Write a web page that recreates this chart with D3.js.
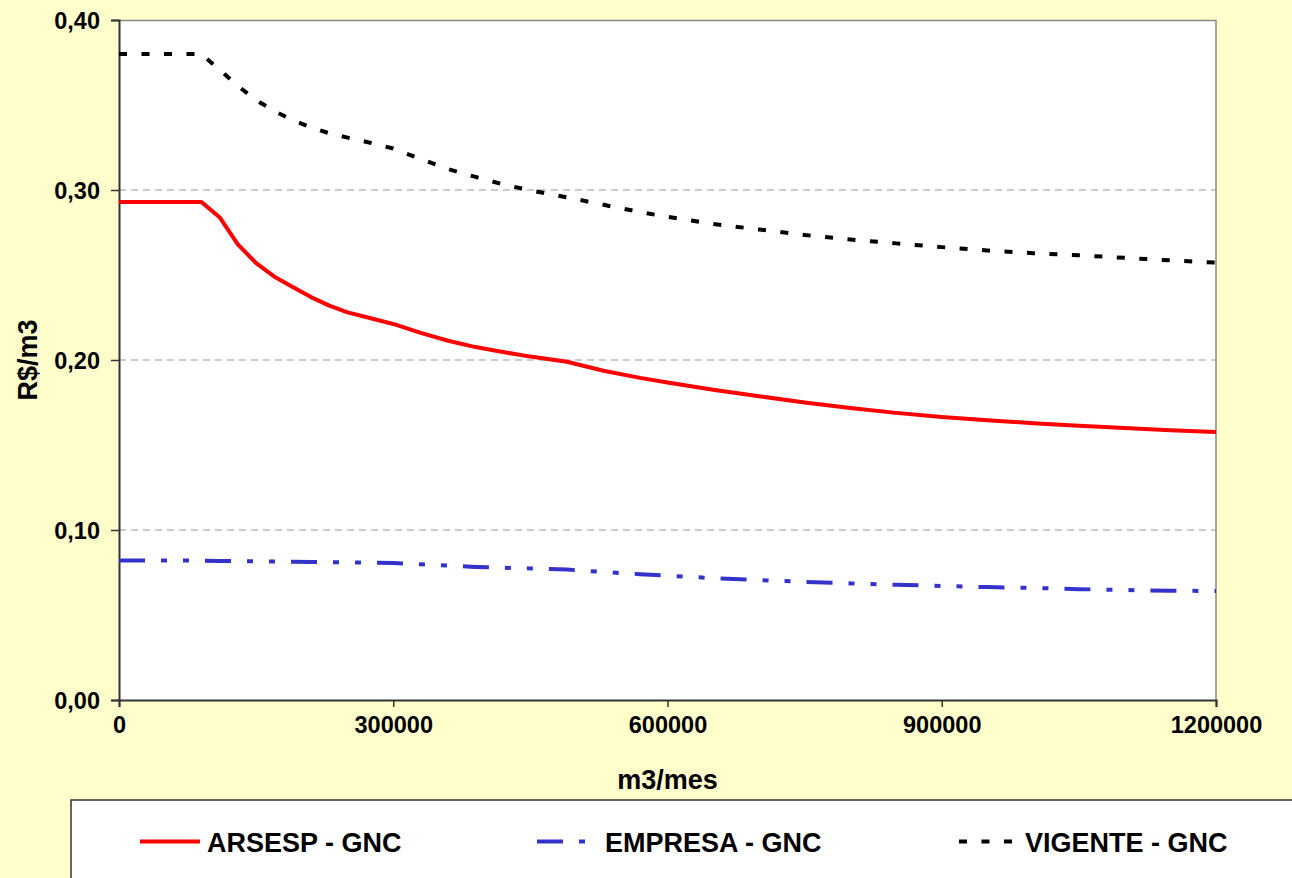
<!DOCTYPE html>
<html><head><meta charset="utf-8">
<script src="https://cdn.jsdelivr.net/npm/d3@7"></script>
<style>
html,body{margin:0;padding:0;background:#FFFFCC;}
svg{display:block;}
text{font-family:"Liberation Sans",Arial,sans-serif;font-weight:bold;fill:#000;}
</style></head>
<body><svg id="c" width="1292" height="878"></svg>
<script>
const volumes = [0,90000,110000,130000,150000,170000,190000,210000,230000,250000,270000,300000,330000,360000,390000,420000,450000,490000,530000,570000,600000,650000,700000,750000,800000,850000,900000,950000,1000000,1050000,1100000,1150000,1200000];
const arsesp = [0.293,0.293,0.284,0.268,0.257,0.249,0.243,0.237,0.232,0.228,0.2253,0.2212,0.2160,0.2113,0.2076,0.2047,0.2020,0.1990,0.1937,0.1895,0.1868,0.1825,0.1787,0.1750,0.1717,0.1689,0.1665,0.1646,0.1628,0.1613,0.1600,0.1587,0.1576];
const empresa = [0.0820,0.0820,0.0818,0.0817,0.0816,0.0815,0.0813,0.0812,0.0811,0.0810,0.0808,0.0806,0.0798,0.0791,0.0783,0.0778,0.0774,0.0767,0.0753,0.0740,0.0731,0.0717,0.0705,0.0695,0.0686,0.0678,0.0671,0.0664,0.0659,0.0652,0.0647,0.0643,0.0641];
const vigente = [0.380,0.380,0.3707,0.3612,0.3529,0.3464,0.3411,0.3368,0.3334,0.3308,0.3284,0.3244,0.3182,0.3123,0.3077,0.3033,0.2998,0.2957,0.2913,0.2870,0.2842,0.2800,0.2768,0.2735,0.2709,0.2686,0.2664,0.2644,0.2628,0.2616,0.2601,0.2586,0.2573];
const yTicks = [0,0.1,0.2,0.3,0.4];
const xTicks = [0,300000,600000,900000,1200000];
const seriesNames = ["ARSESP - GNC","EMPRESA - GNC","VIGENTE - GNC"];
const xTitle = "m3/mes";
const yTitle = "R$/m3";

const svg = d3.select("#c");
const L=119, R=1216, T=20, B=700;
const x = d3.scaleLinear().domain([0,1200000]).range([L,R]);
const y = d3.scaleLinear().domain([0,0.4]).range([B,T]);

svg.append("rect").attr("width",1292).attr("height",878).attr("fill","#FFFFCC");
svg.append("rect").attr("x",L).attr("y",T).attr("width",R-L).attr("height",B-T).attr("fill","#fff");

// gridlines
svg.append("g").selectAll("line").data(yTicks.filter(d=>d>0 && d<0.4)).join("line")
  .attr("x1",L).attr("x2",R).attr("y1",d=>y(d)).attr("y2",d=>y(d))
  .attr("stroke","#999").attr("stroke-width",1).attr("stroke-dasharray","7,5");

// plot border top/right
svg.append("line").attr("x1",L).attr("x2",R).attr("y1",T+0.5).attr("y2",T+0.5).attr("stroke","#888").attr("stroke-width",1.5);
svg.append("line").attr("x1",R).attr("x2",R).attr("y1",T).attr("y2",B).attr("stroke","#888").attr("stroke-width",1.5);

const fmt = d => d3.format(".2f")(d).replace(".",",");
const yAxis = svg.append("g").attr("transform",`translate(${L},0)`)
  .call(d3.axisLeft(y).tickValues(yTicks).tickSize(8).tickPadding(11).tickFormat(fmt));
const xAxis = svg.append("g").attr("transform",`translate(0,${B})`)
  .call(d3.axisBottom(x).tickValues(xTicks).tickSize(7).tickPadding(9).tickFormat(d3.format("d")));
[yAxis,xAxis].forEach(a=>{
  a.select(".domain").attr("stroke","#333").attr("stroke-width",2);
  a.selectAll(".tick line").attr("stroke","#333").attr("stroke-width",1.5);
  a.selectAll(".tick text").style("font-family",'"Liberation Sans",Arial,sans-serif')
    .style("font-weight","bold").style("font-size","23.5px").attr("fill","#000");
});
yAxis.selectAll(".tick text").attr("dy","0.36em");
xAxis.selectAll(".tick text").attr("dy","0.71em");

// titles
svg.append("text").attr("x",(L+R)/2).attr("y",789).attr("text-anchor","middle").style("font-size","27px").text(xTitle);
svg.append("text").attr("transform",`translate(37,${(T+B)/2}) rotate(-90)`).attr("text-anchor","middle").style("font-size","27px").text(yTitle);

// series
const styles = [
  {vals:arsesp, color:"#FF0000", dash:null},
  {vals:empresa, color:"#3333CC", dash:"26,16,6,16,6,16"},
  {vals:vigente, color:"#000000", dash:"8,14.5"}
];
const line = d3.line().x(d=>x(d[0])).y(d=>y(d[1]));
styles.forEach(s=>{
  svg.append("path").datum(volumes.map((v,i)=>[v,s.vals[i]]))
    .attr("d",line).attr("fill","none").attr("stroke",s.color).attr("stroke-width",4)
    .attr("stroke-linejoin","round")
    .attr("stroke-dasharray",s.dash);
});

// legend
svg.append("rect").attr("x",71).attr("y",800).attr("width",1300).attr("height",200)
  .attr("fill","#fff").attr("stroke","#333").attr("stroke-width",1.5);
const legX = [140,537,959];
const legTx = [207,605,1025];
styles.forEach((s,i)=>{
  svg.append("line").attr("x1",legX[i]).attr("x2",legX[i]+60).attr("y1",841.5).attr("y2",841.5)
    .attr("stroke",s.color).attr("stroke-width",4).attr("stroke-dasharray",s.dash);
  svg.append("text").attr("x",legTx[i]).attr("y",851.5).style("font-size","27px").text(seriesNames[i]);
});
</script></body></html>
